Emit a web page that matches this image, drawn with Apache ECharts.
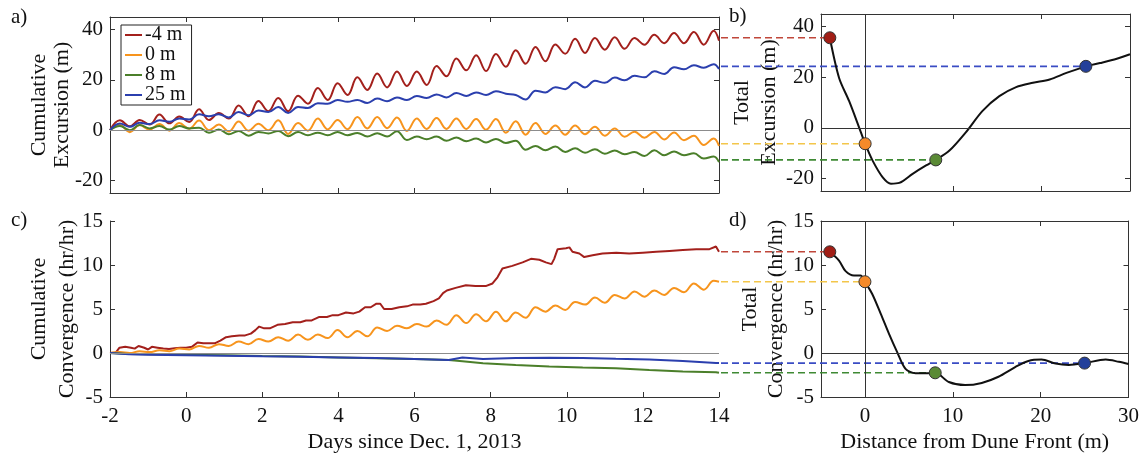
<!DOCTYPE html>
<html>
<head>
<meta charset="utf-8">
<script src="https://cdn.jsdelivr.net/npm/echarts@6/dist/echarts.min.js"></script>
<style>
  html, body { margin: 0; padding: 0; background: #fff; }
  #chart { width: 1142px; height: 456px; }
</style>
</head>
<body>
<div id="chart"></div>
<script>
// sample times (days since Dec. 1, 2013), one every half tidal cycle
var days = [-2.00, -1.74, -1.48, -1.22, -0.96, -0.70, -0.44, -0.18, 0.08, 0.34,
  0.60, 0.86, 1.12, 1.38, 1.64, 1.90, 2.16, 2.42, 2.68, 2.94,
  3.20, 3.46, 3.72, 3.98, 4.24, 4.50, 4.76, 5.02, 5.28, 5.54,
  5.80, 6.06, 6.32, 6.58, 6.84, 7.10, 7.36, 7.62, 7.88, 8.14,
  8.40, 8.66, 8.92, 9.18, 9.44, 9.70, 9.96, 10.22, 10.48, 10.74,
  11.00, 11.26, 11.52, 11.78, 12.04, 12.30, 12.56, 12.82, 13.08, 13.34,
  13.60, 13.86, 14.00];

// a) cumulative excursion (m)
var excRed = [0, 3.9, 1.5, 4.0, 2.2, 6.2, 2.7, 5.4, 3.2, 8.3,
  4.0, 6.8, 4.6, 9.8, 5.5, 11.6, 7.5, 12.8, 7.5, 13.7,
  10.5, 16.8, 12.0, 18.7, 14.0, 21.0, 16.0, 22.5, 17.0, 23.3,
  17.6, 23.3, 18.0, 25.5, 21.4, 28.5, 23.8, 29.8, 23.5, 30.3,
  25.2, 31.8, 26.4, 33.1, 27.4, 34.1, 30.4, 36.3, 30.7, 36.6,
  32.0, 36.9, 32.4, 36.6, 34.0, 37.9, 34.6, 38.6, 34.6, 39.0,
  34.0, 39.5, 35.6];
var excOrange = [0, 2.0, -0.8, 2.0, 0.2, 2.4, -0.2, 2.8, 0.6, 3.8,
  0.0, 2.2, -0.5, 3.4, -0.2, 2.5, 0.0, 3.9, -1.5, 2.8,
  -0.2, 4.6, 0.3, 4.0, 0.4, 5.2, 0.7, 5.2, 0.8, 5.0,
  -0.3, 4.6, 0.5, 4.8, 0.5, 4.6, 0.5, 4.4, 0.2, 4.4,
  -1.0, 3.5, -1.8, 2.8, -1.5, 1.8, -1.8, 1.8, -1.6, 1.3,
  -2.2, 0.7, -2.6, -0.6, -3.0, -0.7, -3.7, -0.9, -4.0, -2.2,
  -5.9, -3.3, -6.3];
var excGreen = [0, 1.6, 0.0, 2.0, 0.7, 1.6, 0.3, 1.6, 0.7, 1.0,
  -1.0, 0.3, -1.6, -0.3, -2.2, -0.7, -1.3, -0.3, -2.4, -0.7,
  -2.0, -1.0, -2.0, -0.7, -2.0, -1.1, -2.5, -1.2, -2.5, -0.4,
  -3.9, -2.5, -3.6, -2.5, -4.2, -2.9, -4.4, -3.3, -4.9, -3.5,
  -5.1, -4.2, -7.8, -6.3, -8.0, -6.5, -8.7, -7.2, -9.0, -7.6,
  -9.4, -8.1, -9.6, -8.7, -10.3, -8.0, -10.0, -8.5, -10.0, -9.2,
  -11.3, -10.5, -12.7];
var excBlue = [0, 2.6, 1.3, 2.9, 2.4, 3.9, 3.3, 4.6, 4.2, 6.3,
  5.5, 6.3, 5.0, 7.2, 5.9, 7.8, 7.2, 9.2, 6.8, 9.2,
  8.8, 10.7, 10.5, 12.0, 11.3, 12.0, 10.8, 12.6, 11.5, 13.0,
  12.0, 13.6, 12.8, 14.2, 13.0, 14.8, 13.6, 15.0, 14.0, 15.5,
  14.5, 14.0, 12.2, 15.7, 15.0, 17.1, 16.3, 19.0, 17.0, 19.6,
  18.8, 20.9, 19.8, 21.6, 21.0, 23.4, 22.3, 25.0, 24.2, 25.8,
  24.8, 26.2, 24.3];

// c) cumulative convergence (hr/hr)
var convRedDays = [-2.00, -1.85, -1.75, -1.60, -1.45, -1.35, -1.25, -1.10, -1.00, -0.90,
  -0.75, -0.60, -0.45, -0.30, -0.15, 0.00, 0.15, 0.30, 0.45, 0.60,
  0.75, 0.90, 1.05, 1.20, 1.40, 1.55, 1.70, 1.82, 1.92, 2.05,
  2.20, 2.40, 2.60, 2.80, 3.00, 3.15, 3.30, 3.50, 3.70, 3.85,
  4.00, 4.20, 4.40, 4.55, 4.70, 4.85, 5.00, 5.10, 5.20, 5.40,
  5.60, 5.80, 5.95, 6.15, 6.30, 6.50, 6.64, 6.75, 6.85, 7.08,
  7.35, 7.60, 7.87, 8.05, 8.18, 8.31, 8.57, 8.84, 9.06, 9.28,
  9.45, 9.60, 9.67, 9.76, 9.98, 10.07, 10.15, 10.33, 10.46, 10.68,
  10.94, 11.30, 11.64, 12.00, 12.35, 12.70, 13.05, 13.40, 13.75, 13.92, 14.00];
var convRed = [0.0, 0.05, 0.6, 0.7, 0.6, 0.5, 0.8, 0.6, 0.4, 0.7,
  0.6, 0.5, 0.45, 0.55, 0.6, 0.6, 0.7, 1.2, 1.1, 1.1,
  1.1, 1.4, 1.8, 1.9, 2.0, 2.0, 2.2, 2.6, 3.0, 2.8,
  2.8, 3.2, 3.3, 3.5, 3.5, 3.7, 3.7, 4.1, 4.1, 4.3,
  4.3, 4.6, 4.5, 4.7, 5.2, 5.2, 5.6, 5.6, 5.0, 5.0,
  5.2, 5.3, 5.5, 5.5, 5.6, 5.9, 6.2, 6.8, 7.1, 7.4,
  7.7, 7.6, 7.6, 7.9, 8.6, 9.6, 9.9, 10.3, 10.7, 10.6,
  10.3, 10.1, 10.7, 11.8, 11.9, 12.0, 11.5, 11.3, 10.9, 11.1,
  11.3, 11.4, 11.3, 11.4, 11.5, 11.6, 11.7, 11.8, 11.8, 12.1, 11.5];
var convOrange = [0, 0.1, 0.0, 0.2, 0.1, 0.3, 0.2, 0.5, 0.4, 0.8,
  0.6, 1.0, 0.8, 1.3, 1.0, 1.6, 1.3, 1.8, 1.4, 2.1,
  1.5, 2.1, 1.7, 2.6, 1.8, 2.5, 1.9, 2.9, 2.5, 3.1,
  2.8, 3.3, 3.0, 3.7, 3.2, 4.3, 3.4, 4.4, 3.6, 4.7,
  3.6, 4.6, 4.0, 5.2, 4.7, 5.4, 4.9, 5.8, 5.5, 6.3,
  5.7, 6.6, 6.2, 7.0, 6.4, 7.1, 6.6, 7.4, 6.9, 7.9,
  7.2, 8.2, 8.1];
var convFlatDays = [-2.0, -1.5, -1.0, 0.0, 1.0, 2.0, 3.0, 4.0, 5.0, 6.0,
  6.9, 7.26, 7.8, 8.66, 9.54, 10.42, 11.29, 12.17, 13.05, 13.92, 14.0];
var convGreen = [0, -0.1, -0.15, -0.2, -0.25, -0.35, -0.4, -0.5, -0.6, -0.68,
  -0.8, -0.95, -1.17, -1.36, -1.54, -1.66, -1.73, -1.92, -2.1, -2.18, -2.25];
var convBlue = [0, -0.15, -0.2, -0.25, -0.3, -0.38, -0.42, -0.5, -0.58, -0.68,
  -0.8, -0.5, -0.68, -0.58, -0.53, -0.56, -0.66, -0.75, -0.9, -1.15, -1.15];

// b) total excursion vs distance from dune front
var distB = [-4, -2.95, -1.82, -0.68, 0, 0.83, 1.97, 2.92, 3.86, 5.38,
  6.9, 8.0, 9.55, 11.4, 13.3, 15.2, 17.1, 19.0, 20.9, 22.8,
  25.0, 26.6, 28.5, 30];
var excTotal = [35.6, 19.7, 10.6, 0.1, -6.3, -12.9, -19.5, -22.1, -21.8, -18.2,
  -14.9, -12.7, -9.0, -1.8, 6.7, 12.5, 16.1, 17.8, 19.1, 21.7,
  24.3, 25.6, 27.3, 29.1];

// d) total convergence vs distance from dune front
var distD = [-4, -2.95, -2.2, -1.25, -0.5, 0, 0.83, 1.78, 2.73, 3.67,
  4.62, 5.76, 7.0, 8.0, 9.55, 11.4, 13.3, 15.2, 17.1, 18.6,
  20.1, 21.7, 23.2, 25.0, 27.4, 28.9, 30];
var convTotal = [11.5, 10.5, 9.3, 8.8, 8.8, 8.1, 6.7, 4.5, 2.2, 0.1,
  -1.8, -2.3, -2.3, -2.25, -3.3, -3.65, -3.4, -2.7, -1.6, -0.9,
  -0.75, -1.2, -1.35, -1.15, -0.75, -1.0, -1.25];

// sensor positions and end values
var names = ['-4 m', '0 m', '8 m', '25 m'];
var dotDist = [-4, 0, 8, 25];
var excEnd = [35.6, -6.3, -12.7, 24.3];
var convEnd = [11.5, 8.1, -2.25, -1.15];
var excTicks = [-20, 0, 20, 40];
var distTicks = [0, 10, 20, 30];

var lineColors = ['#a3201c', '#f7941d', '#4b7f2a', '#2b3fae'];
var dashColors = ['#c0473a', '#f3c64a', '#3f8a34', '#3a4cc4'];
var dotColors = ['#a11e16', '#f58a2a', '#5a8a35', '#24409a'];

var FONT = "'Liberation Serif', 'Times New Roman', serif";
var gA = { left: 110, top: 17, width: 609, height: 176 };
var gB = { left: 821, top: 14, width: 309, height: 177 };
var gC = { left: 110, top: 221, width: 609, height: 176 };
var gD = { left: 821, top: 221, width: 309, height: 176 };
var distMin = -5, distMax = 30;
var leaderLeft = 721; // pixel where the dashed leaders start
var leaderStart = distMin - (gB.left - leaderLeft) / gB.width * (distMax - distMin);
// leader grids: same vertical scale as b / d, stretched left to the time panels
var gE = { left: leaderLeft, top: gB.top, width: gB.left + gB.width - leaderLeft, height: gB.height };
var gF = { left: leaderLeft, top: gD.top, width: gD.left + gD.width - leaderLeft, height: gD.height };

function pairs(xs, ys) {
  return xs.map(function (x, i) { return [x, ys[i]]; });
}

function axis(o) {
  var base = {
    type: 'value',
    axisLine: { show: true, onZero: false, lineStyle: { color: '#333', width: 1 } },
    axisTick: { show: true, inside: true, length: 5, lineStyle: { color: '#333' } },
    axisLabel: { show: false, color: '#111', fontSize: 21, fontFamily: FONT, margin: 7 },
    splitLine: { show: false },
    nameMoveOverlap: false,
    nameTextStyle: { color: '#111', fontSize: 22, fontFamily: FONT, lineHeight: 25 }
  };
  for (var k in o) {
    if (typeof o[k] === 'object' && base[k] && !Array.isArray(o[k])) {
      base[k] = Object.assign({}, base[k], o[k]);
    } else {
      base[k] = o[k];
    }
  }
  return base;
}

var chart = echarts.init(document.getElementById('chart'));

var series = [];

// zero reference lines
function zeroLines(xi, yi, data, color) {
  return {
    type: 'line', xAxisIndex: xi, yAxisIndex: yi, data: [], silent: true, z: 1,
    markLine: {
      silent: true, symbol: ['none', 'none'], label: { show: false },
      lineStyle: { color: color, type: 'solid', width: 1 },
      emphasis: { disabled: true },
      data: data
    }
  };
}
series.push(zeroLines(0, 0, [{ yAxis: 0 }], '#8c8c8c'));
series.push(zeroLines(4, 4, [{ yAxis: 0 }], '#8c8c8c'));
series.push(zeroLines(2, 2, [{ yAxis: 0 }, { xAxis: 0 }], '#333'));
series.push(zeroLines(5, 5, [{ yAxis: 0 }, { xAxis: 0 }], '#333'));

// a) time series
[excRed, excOrange, excGreen, excBlue].forEach(function (vals, i) {
  series.push({
    name: names[i], type: 'line', xAxisIndex: 0, yAxisIndex: 0,
    data: pairs(days, vals), smooth: 0.4, showSymbol: false, symbol: 'none',
    lineStyle: { color: lineColors[i], width: 2 }, itemStyle: { color: lineColors[i] }, z: 2
  });
});

// c) time series
[pairs(convRedDays, convRed), pairs(days, convOrange),
 pairs(convFlatDays, convGreen), pairs(convFlatDays, convBlue)].forEach(function (d, i) {
  series.push({
    name: names[i], type: 'line', xAxisIndex: 4, yAxisIndex: 4,
    data: d, smooth: i === 1 ? 0.4 : false, showSymbol: false, symbol: 'none',
    lineStyle: { color: lineColors[i], width: 2 }, itemStyle: { color: lineColors[i] }, z: 2
  });
});

// b) and d) profiles, leaders and sensor dots
function profile(xi, yi, li, xs, ys, ends) {
  ends.forEach(function (v, i) {
    series.push({
      type: 'line', xAxisIndex: li, yAxisIndex: li, silent: true,
      data: [[leaderStart, v], [dotDist[i], v]], symbol: 'none',
      lineStyle: { color: dashColors[i], width: 1.6, type: [7, 4] }, z: 2
    });
  });
  series.push({
    type: 'line', xAxisIndex: xi, yAxisIndex: yi, data: pairs(xs, ys),
    smooth: 0.3, symbol: 'none', lineStyle: { color: '#111', width: 2 }, z: 3
  });
  series.push({
    type: 'scatter', xAxisIndex: xi, yAxisIndex: yi, data: pairs(dotDist, ends),
    symbolSize: 12, clip: false, z: 5,
    itemStyle: {
      color: function (p) { return dotColors[p.dataIndex]; },
      borderColor: '#333', borderWidth: 1, opacity: 1
    }
  });
}
profile(2, 2, 7, distB, excTotal, excEnd);
profile(5, 5, 8, distD, convTotal, convEnd);

var option = {
  animation: false,
  backgroundColor: '#fff',
  textStyle: { fontFamily: FONT },
  title: [
    { text: 'a)', left: 11, top: 7 },
    { text: 'b)', left: 729, top: 6 },
    { text: 'c)', left: 11, top: 210 },
    { text: 'd)', left: 729, top: 210 }
  ].map(function (t) {
    t.padding = 0;
    t.textStyle = { fontSize: 21, fontWeight: 'normal', color: '#111', fontFamily: FONT };
    return t;
  }),
  legend: {
    data: names, orient: 'vertical', left: 121, top: 25,
    icon: 'rect', itemWidth: 17, itemHeight: 2, itemGap: 0,
    padding: [0, 6, 0, 4], borderColor: '#222', borderWidth: 1, backgroundColor: '#fff',
    selectedMode: false,
    textStyle: { fontSize: 20, lineHeight: 16, color: '#111', fontFamily: FONT, padding: [0, 0, 0, -2] }
  },
  grid: [gA, gB, gC, gD, gE, gF],
  xAxis: [
    axis({ gridIndex: 0, min: -2, max: 14, interval: 2 }),
    axis({ gridIndex: 0, min: -2, max: 14, interval: 2, position: 'top' }),
    axis({ gridIndex: 1, min: distMin, max: distMax, axisTick: { customValues: distTicks } }),
    axis({ gridIndex: 1, min: distMin, max: distMax, position: 'top', axisTick: { customValues: distTicks } }),
    axis({ gridIndex: 2, min: -2, max: 14, interval: 2, axisLabel: { show: true, margin: 9 },
      name: 'Days since Dec. 1, 2013', nameLocation: 'middle', nameGap: 33 }),
    axis({ gridIndex: 3, min: distMin, max: distMax,
      axisTick: { customValues: distTicks }, axisLabel: { show: true, margin: 9, customValues: distTicks },
      name: 'Distance from Dune Front (m)', nameLocation: 'middle', nameGap: 33 }),
    axis({ gridIndex: 3, min: distMin, max: distMax, position: 'top', axisTick: { customValues: distTicks } }),
    { type: 'value', gridIndex: 4, min: leaderStart, max: distMax, show: false },
    { type: 'value', gridIndex: 5, min: leaderStart, max: distMax, show: false }
  ],
  yAxis: [
    axis({ gridIndex: 0, min: -25, max: 45, axisTick: { customValues: excTicks },
      axisLabel: { show: true, customValues: excTicks },
      name: 'Cumulative\nExcursion (m)', nameLocation: 'middle', nameRotate: 90, nameGap: 36,
      nameTextStyle: { lineHeight: 23 } }),
    axis({ gridIndex: 0, min: -25, max: 45, position: 'right', axisTick: { customValues: excTicks } }),
    axis({ gridIndex: 1, min: -25, max: 45, axisTick: { customValues: excTicks },
      axisLabel: { show: true, customValues: excTicks },
      name: 'Total\nExcursion (m)', nameLocation: 'middle', nameRotate: 90, nameGap: 38,
      nameTextStyle: { lineHeight: 27 } }),
    axis({ gridIndex: 1, min: -25, max: 45, position: 'right', axisTick: { customValues: excTicks } }),
    axis({ gridIndex: 2, min: -5, max: 15, interval: 5, axisLabel: { show: true },
      name: 'Cumulative\nConvergence (hr/hr)', nameLocation: 'middle', nameRotate: 90, nameGap: 29,
      nameTextStyle: { lineHeight: 28 } }),
    axis({ gridIndex: 3, min: -5, max: 15, interval: 5, axisLabel: { show: true },
      name: 'Total\nConvergence (hr/hr)', nameLocation: 'middle', nameRotate: 90, nameGap: 32,
      nameTextStyle: { lineHeight: 26 } }),
    axis({ gridIndex: 3, min: -5, max: 15, interval: 5, position: 'right' }),
    { type: 'value', gridIndex: 4, min: -25, max: 45, show: false },
    { type: 'value', gridIndex: 5, min: -5, max: 15, show: false }
  ],
  series: series
};

chart.setOption(option);
</script>
</body>
</html>
